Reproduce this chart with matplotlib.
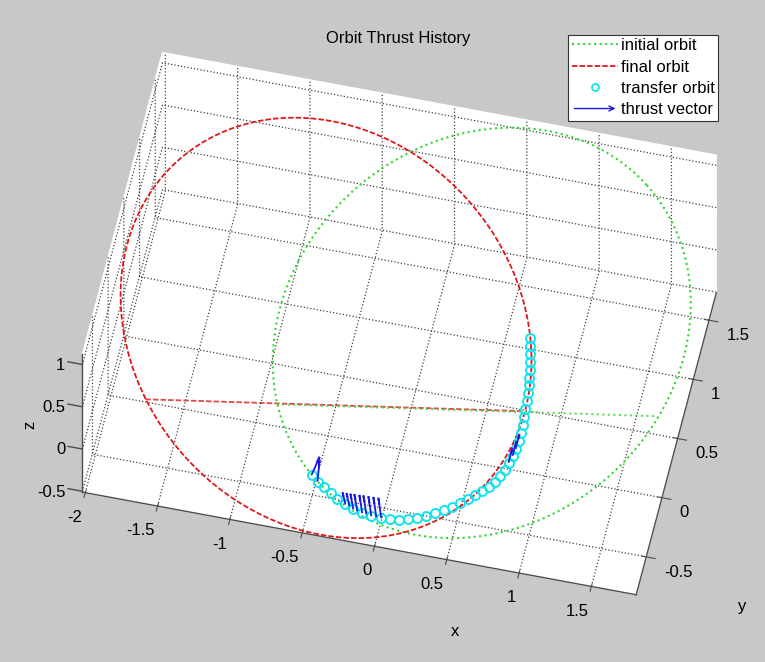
import numpy as np
import matplotlib
matplotlib.use("Agg")
import matplotlib.pyplot as plt
from matplotlib.lines import Line2D
from matplotlib.patches import FancyArrowPatch
from matplotlib.legend_handler import HandlerPatch

plt.rcParams["font.family"] = ["Liberation Sans", "DejaVu Sans"]
plt.rcParams["grid.color"] = "0.25"
plt.rcParams["grid.linestyle"] = ":"
plt.rcParams["grid.linewidth"] = 0.9

W, H = 765, 662

# axis limits and ticks
xlim = (-2.02, 1.81)
ylim = (-0.82, 1.73)
zlim = (-0.51, 1.12)
xticks = [-2, -1.5, -1, -0.5, 0, 0.5, 1, 1.5]
yticks = [-0.5, 0, 0.5, 1, 1.5]
zticks = [-0.5, 0, 0.5, 1]

# frame of the orbit plane in data coordinates
plane_origin = np.array([0.457, 0.460, 0.379])
plane_e1 = np.array([0.964, 0.218, 0.0])
plane_e2 = np.array([-0.180, 0.830, 0.505])

# orbits in plane coordinates: centre, semi axes, tilt of first axis (deg)
initial_center = [0.007, -0.007]
initial_axes = [1.517, 1.313]
initial_tilt = 42.0
final_center = [-1.058, 0.027]
final_axes = [1.531, 1.308]
final_tilt = -49.85

# node lines, (start, end) in plane coordinates
initial_node_a = [-1.395, 1.191]
initial_node_b = [-0.497, -0.578]
final_node_a = [-2.293, 0.293]
final_node_b = [-0.463, -0.544]

# transfer orbit samples (plane coordinates)
transfer_a = [-1.156, -1.116, -1.075, -1.027, -0.980, -0.925, -0.871, -0.810, -0.748,
              -0.680, -0.619, -0.558, -0.497, -0.435, -0.374, -0.313, -0.252, -0.197,
              -0.143, -0.088, -0.041, 0.007, 0.054, 0.095, 0.129, 0.163, 0.190, 0.218,
              0.238, 0.259, 0.272, 0.286, 0.299, 0.306, 0.313, 0.320, 0.327, 0.333,
              0.337, 0.340, 0.340, 0.340, 0.340]
transfer_b = [-0.980, -1.027, -1.068, -1.109, -1.150, -1.184, -1.218, -1.245, -1.265,
              -1.279, -1.286, -1.289, -1.286, -1.276, -1.262, -1.245, -1.224, -1.204,
              -1.177, -1.150, -1.122, -1.095, -1.061, -1.027, -0.986, -0.946, -0.898,
              -0.850, -0.803, -0.748, -0.694, -0.639, -0.585, -0.531, -0.476, -0.422,
              -0.367, -0.313, -0.259, -0.204, -0.150, -0.095, -0.041]

# thrust vectors: base point and components (plane coordinates)
thrust_a = [-1.156, -1.116, -0.925, -0.898, -0.871, -0.844, -0.810, -0.782, -0.748,
            -0.714, -0.680, 0.190, 0.218, 0.238]
thrust_b = [-0.980, -1.027, -1.184, -1.197, -1.218, -1.231, -1.245, -1.252, -1.265,
            -1.272, -1.279, -0.898, -0.850, -0.803]
thrust_da = [0.054, 0.014, -0.020, -0.020, -0.020, -0.020, -0.020, -0.020, -0.020,
             -0.020, -0.020, 0.027, 0.027, 0.027]
thrust_db = [0.122, 0.150, 0.082, 0.091, 0.107, 0.117, 0.126, 0.129, 0.136,
             0.139, 0.140, 0.102, 0.102, 0.102]

green = "#33d633"
red = "#e01818"
cyan = "#10e4ee"
blue = "#1a1ae0"
axis_grey = "0.3"


def to_xyz(a, b, origin=True):
    a = np.asarray(a, float)
    b = np.asarray(b, float)
    p = np.multiply.outer(a, plane_e1) + np.multiply.outer(b, plane_e2)
    if origin:
        p = p + plane_origin
    return p[..., 0], p[..., 1], p[..., 2]


def orbit(center, axes, tilt):
    t = np.linspace(0, 2 * np.pi, 400)
    c, s = np.cos(np.radians(tilt)), np.sin(np.radians(tilt))
    ea = axes[0] * np.cos(t)
    eb = axes[1] * np.sin(t)
    return to_xyz(center[0] + c * ea - s * eb, center[1] + s * ea + c * eb)


fig = plt.figure(figsize=(W / 100, H / 100), dpi=100, facecolor="#c8c8c8")
ax = fig.add_axes([0, 0, 1, 1], projection="3d", proj_type="ortho",
                  computed_zorder=False)
ax.set_facecolor("none")

# orbits
ax.plot(*orbit(initial_center, initial_axes, initial_tilt), color=green,
        ls=":", lw=1.5, zorder=2)
ax.plot(*orbit(final_center, final_axes, final_tilt), color=red,
        ls=(0, (3, 1.2)), lw=1.3, zorder=3)
ax.plot(*to_xyz(final_node_a, final_node_b), color=red, ls=(0, (3, 1.2)),
        lw=1.3, alpha=0.8, zorder=3)
ax.plot(*to_xyz(initial_node_a, initial_node_b), color=green, ls=":",
        lw=1.5, alpha=0.8, zorder=3)

# transfer orbit and thrust
ax.plot(*to_xyz(transfer_a, transfer_b), ls="none", marker="o", ms=6.5,
        mfc="none", mec=cyan, mew=1.4, zorder=4)
tx, ty, tz = to_xyz(thrust_a, thrust_b)
tu, tv, tw = to_xyz(thrust_da, thrust_db, origin=False)
ax.quiver(tx, ty, tz, tu, tv, tw, color=blue, arrow_length_ratio=0.35,
          linewidth=1.3, zorder=5)

# axes styling
ax.set_xlim(xlim)
ax.set_ylim(ylim)
ax.set_zlim(zlim)
ax.set_xticks(xticks, labels=[f"{v:g}" for v in xticks])
ax.set_yticks(yticks, labels=[f"{v:g}" for v in yticks])
ax.set_zticks(zticks, labels=[f"{v:g}" for v in zticks])
for axis in (ax.xaxis, ax.yaxis, ax.zaxis):
    axis.set_pane_color((1, 1, 1, 1))
    axis.pane.set_edgecolor("white")
    axis.line.set_color(axis_grey)
    axis.line.set_linewidth(1.0)
ax.zaxis.set_ticks_position("lower")
ax.tick_params(axis="x", pad=1.7, labelsize=12, color=axis_grey, labelcolor="black")
ax.tick_params(axis="y", pad=0, labelsize=12, color=axis_grey, labelcolor="black")
ax.tick_params(axis="z", pad=-1.3, labelsize=12, color=(0, 0, 0, 0),
               labelcolor="black")
# MATLAB-like anchoring of the tick labels
for lab in ax.get_xticklabels():
    lab.set_ha("right")
    lab.set_va("top")
for lab in ax.get_yticklabels():
    lab.set_ha("left")
    lab.set_va("top")
for lab in ax.get_zticklabels():
    lab.set_ha("right")
    lab.set_va("baseline")
# horizontal z tick marks, as in the original
for v in zticks:
    ax.plot([xlim[0], xlim[0] - 0.1], [ylim[0], ylim[0]], [v, v], color=axis_grey,
            lw=1.0, zorder=1)

ax.view_init(elev=56.7, azim=-77.5)
box = np.array([148.9 * (xlim[1] - xlim[0]), 145.8 * (ylim[1] - ylim[0]),
                154.8 * (zlim[1] - zlim[0])])
ax.set_box_aspect(box)

# place the box so that its corners land where they are in the original
fig.canvas.draw()
corners = np.array([[xlim[0], ylim[0], zlim[0]], [xlim[1], ylim[0], zlim[0]],
                    [xlim[1], ylim[1], zlim[0]], [xlim[0], ylim[0], zlim[1]],
                    [xlim[0], ylim[1], zlim[1]], [xlim[1], ylim[1], zlim[1]]])
target = np.array([[80, 490], [637, 593], [718, 293], [81, 350], [162, 55], [718, 161]],
                  float)
target[:, 1] = H - target[:, 1]
M = ax.get_proj()
hom = M @ np.vstack([corners.T, np.ones(len(corners))])
disp = ax.transData.transform(np.column_stack([hom[0] / hom[3], hom[1] / hom[3]]))
centre = ax.transData.transform((0, 0))
rel = disp - centre
rel_c = rel - rel.mean(axis=0)
tgt_c = target - target.mean(axis=0)
scale = (rel_c * tgt_c).sum() / (rel_c ** 2).sum()
new_centre = target.mean(axis=0) - scale * rel.mean(axis=0)
ax.set_box_aspect(box, zoom=scale)
pos = ax.get_position(original=True)
shift = (new_centre - centre) / np.array([W, H])
ax.set_position([pos.x0 + shift[0], pos.y0 + shift[1], pos.width, pos.height])


def px(u, v):
    return u / W, 1 - v / H


fig.text(*px(398, 38), "Orbit Thrust History", fontsize=12, ha="center", va="center")
fig.text(*px(455, 632), "x", fontsize=12, ha="center", va="center")
fig.text(*px(742, 607), "y", fontsize=12, ha="center", va="center")
fig.text(*px(30, 425), "z", fontsize=12, ha="center", va="center", rotation=90)


def arrow_handle(legend, orig_handle, xdescent, ydescent, width, height, fontsize):
    return FancyArrowPatch((-xdescent, height / 2 - ydescent),
                           (width - xdescent, height / 2 - ydescent),
                           arrowstyle="->", mutation_scale=9, lw=1.0)


handles = [
    Line2D([], [], color=green, ls=":", lw=1.5),
    Line2D([], [], color=red, ls=(0, (3, 1.2)), lw=1.3),
    Line2D([], [], ls="none", marker="o", ms=5, mfc="none", mec=cyan, mew=1.3),
    FancyArrowPatch((0, 0), (1, 0), arrowstyle="->", color=blue, lw=1.0),
]
labels = ["initial orbit", "final orbit", "transfer orbit", "thrust vector"]
leg = fig.legend(handles, labels, loc="upper right", bbox_to_anchor=px(718, 35),
                 handler_map={FancyArrowPatch: HandlerPatch(patch_func=arrow_handle)},
                 fontsize=12, frameon=True, fancybox=False, framealpha=1,
                 edgecolor="0.2", facecolor="white", handlelength=2.8,
                 handletextpad=0.15, labelspacing=0.38, borderpad=0.2,
                 borderaxespad=0)
leg.get_frame().set_linewidth(0.8)

fig.savefig("out.png", dpi=100, facecolor=fig.get_facecolor())
